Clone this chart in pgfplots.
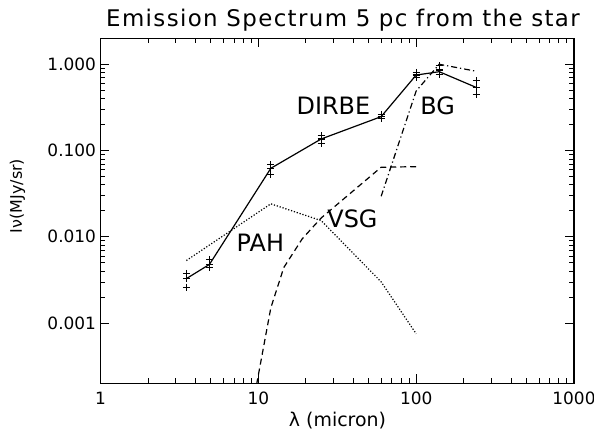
\documentclass[border=0pt]{standalone}
\usepackage{fontspec}
\setmainfont{DejaVu Sans}
\usepackage{pgfplots}
\pgfplotsset{compat=1.18}

\begin{document}
\begin{tikzpicture}
\begin{axis}[
  scale only axis, width=473.5bp, height=345bp,
  xmode=log, ymode=log,
  xmin=1, xmax=1000, ymin=2e-4, ymax=2,
  xtick={1,10,100,1000}, xticklabels={1,10,100,1000},
  ytick={0.001,0.01,0.1,1}, yticklabels={0.001,0.010,0.100,1.000},
  tick align=inside,
  major tick length=9bp, minor tick length=5bp,
  every tick/.style={black, line width=0.7bp},
  axis line style={line width=1.2bp},
  ticklabel style={font=\fontsize{17}{17}\selectfont},
  xticklabel style={yshift=-5bp},
  yticklabel style={xshift=-1bp},
]
% DIRBE: measured values (line) and error marks
\addplot[black, line width=1.2bp] coordinates {
  (3.5,0.00327) (4.9,0.00478) (12,0.0622) (25,0.136) (60,0.247) (100,0.75) (140,0.82) (240,0.539)
};
\addplot[only marks, mark=+, mark size=3.5bp, mark options={black, line width=1.1bp}] coordinates {
  (3.5,0.00376) (3.5,0.00327) (3.5,0.00261)
  (4.9,0.00546) (4.9,0.00478) (4.9,0.00445)
  (12,0.0687) (12,0.0622) (12,0.0526)
  (25,0.149) (25,0.136) (25,0.121)
  (60,0.262) (60,0.247) (60,0.236)
  (100,0.804) (100,0.75) (100,0.703)
  (140,0.96) (140,0.857) (140,0.77)
  (240,0.644) (240,0.539) (240,0.444)
};
% PAH
\addplot[black, line width=1.2bp, dash pattern=on 1.2bp off 1.8bp] coordinates {
  (3.5,0.0053) (12,0.0241) (25,0.0154) (60,0.0030) (100,0.00075)
};
% VSG
\addplot[black, line width=1.2bp, dash pattern=on 6bp off 4bp] coordinates {
  (9.5,1.5e-4) (12,0.0015) (14.5,0.0044) (19,0.0095) (25,0.0165) (60,0.064) (100,0.065)
};
% BG
\addplot[black, line width=1.2bp, dash pattern=on 6bp off 3bp on 1.2bp off 3bp] coordinates {
  (60,0.0295) (100,0.49) (140,1.0) (240,0.83)
};
\node[font=\fontsize{24}{24}\selectfont] at (axis cs:29.9,0.331) {DIRBE};
\node[font=\fontsize{24}{24}\selectfont] at (axis cs:137,0.331) {BG};
\node[font=\fontsize{24}{24}\selectfont] at (axis cs:10.3,0.0086) {PAH};
\node[font=\fontsize{24}{24}\selectfont] at (axis cs:39.5,0.0163) {VSG};
\coordinate (SW) at (rel axis cs:0,0);
\end{axis}
\node[anchor=base, font=\fontsize{23}{23}\selectfont\addfontfeatures{LetterSpace=6}] at ([shift={(242.5bp,356.3bp)}]SW) {Emission Spectrum 5 pc from the star};
\node[rotate=90, font=\fontsize{16}{16}\selectfont] at ([shift={(-83bp,187.3bp)}]SW) {Iν(MJy/sr)};
\node[font=\fontsize{19}{19}\selectfont] at ([shift={(237bp,-37.7bp)}]SW) {λ (micron)};
\pgfresetboundingbox
\path[use as bounding box] ([shift={(-100.5bp,-56.7bp)}]SW) rectangle ++(594bp,440bp);
\end{tikzpicture}
\end{document}
